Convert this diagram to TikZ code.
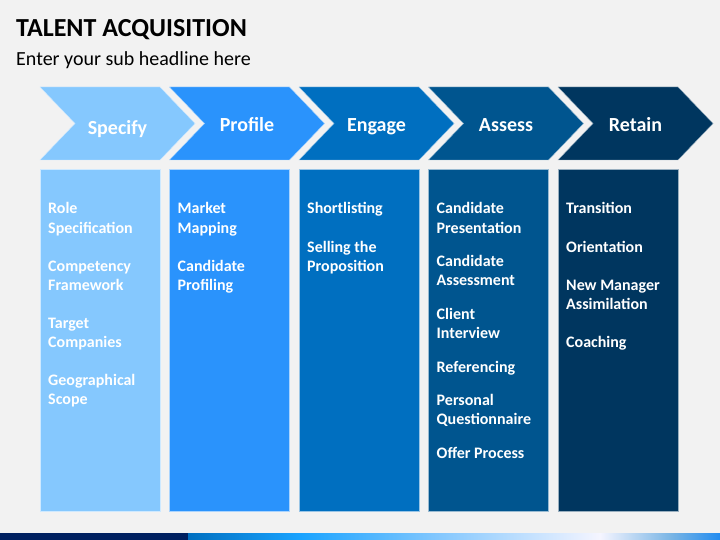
\documentclass[tikz,border=0pt]{standalone}
\usepackage{fontspec}
\setmainfont{Carlito}
\definecolor{bggray}{HTML}{F2F2F2}
\definecolor{stepA}{HTML}{85C8FE}
\definecolor{stepB}{HTML}{2A93FC}
\definecolor{stepC}{HTML}{006FC0}
\definecolor{stepD}{HTML}{00558F}
\definecolor{stepE}{HTML}{00365F}
\definecolor{barnavy}{HTML}{002060}
\tikzset{
  chevron/.style={draw=white!60!#1, line width=0.4pt, fill=#1},
  colbox/.style={draw=white!60!#1, line width=0.4pt, fill=#1},
  steplabel/.style={text=white, font=\bfseries\fontsize{20}{24}\selectfont, anchor=base, inner sep=0pt},
  itemlist/.style={text=white, font=\bfseries\fontsize{16}{19.1}\selectfont, align=flush left,
    text width=110pt, anchor=north west, inner sep=0pt}
}
\begin{document}
\begin{tikzpicture}[x=1pt, y=-1pt]
\useasboundingbox (0,0) rectangle (720,540);
\fill[bggray] (0,0) rectangle (720,540);
% title
\node[anchor=base west, inner sep=0pt, font=\bfseries\fontsize{26}{30}\selectfont] (title) at (16,37) {TALENT ACQUISITION};
\node[anchor=base west, inner sep=0pt, font=\fontsize{20}{24}\selectfont] (subtitle) at (16,66) {Enter your sub headline here};
% chevrons and columns
\foreach \i/\name/\col/\dy in {0/Specify/stepA/3, 1/Profile/stepB/0, 2/Engage/stepC/0, 3/Assess/stepD/0, 4/Retain/stepE/0} {
  \pgfmathsetmacro{\L}{40+129.5*\i}
  \draw[chevron=\col] (\L,87) -- ++(120,0) -- ++(35,36.5) -- ++(-35,36.5) -- ++(-120,0) -- ++(35,-36.5) -- cycle;
  \node[steplabel] (label\i) at (\L+77.5,131.5+\dy) {\name};
  \draw[colbox=\col] (\L,169) rectangle ++(120,342);
}
% column texts
\node[itemlist] (specify) at (48,202.5) {Role\\Specification\\[19.1pt]Competency\\Framework\\[19.1pt]Target\\Companies\\[19.1pt]Geographical\\Scope};
\node[itemlist] (profile) at (177.5,202.5) {Market\\Mapping\\[19.1pt]Candidate\\Profiling};
\node[itemlist] (engage) at (307,202.5) {Shortlisting\\[19.1pt]Selling the\\Proposition};
\node[itemlist] (assess) at (436.5,202.5) {Candidate\\Presentation\\[14.5pt]Candidate\\Assessment\\[14.5pt]Client\\Interview\\[14.5pt]Referencing\\[14.5pt]Personal\\Questionnaire\\[14.5pt]Offer Process};
\node[itemlist] (retain) at (566,202.5) {Transition\\[19.1pt]Orientation\\[19.1pt]New Manager\\Assimilation\\[19.1pt]Coaching};
% bottom bar
\fill[barnavy] (0,533) rectangle (188,540);
\shade[left color=stepC, right color=cyan!60!blue!90!white] (188,533) rectangle (300,540);
\shade[left color=cyan!60!blue!90!white, right color=stepA] (300,533) rectangle (440,540);
\shade[left color=stepA, right color=white!96!blue] (440,533) rectangle (600,540);
\shade[left color=white!96!blue, right color=stepA!90!black] (600,533) rectangle (672,540);
\shade[left color=stepA!90!black, right color=stepB!80!stepC] (672,533) rectangle (720,540);
\end{tikzpicture}
\end{document}
